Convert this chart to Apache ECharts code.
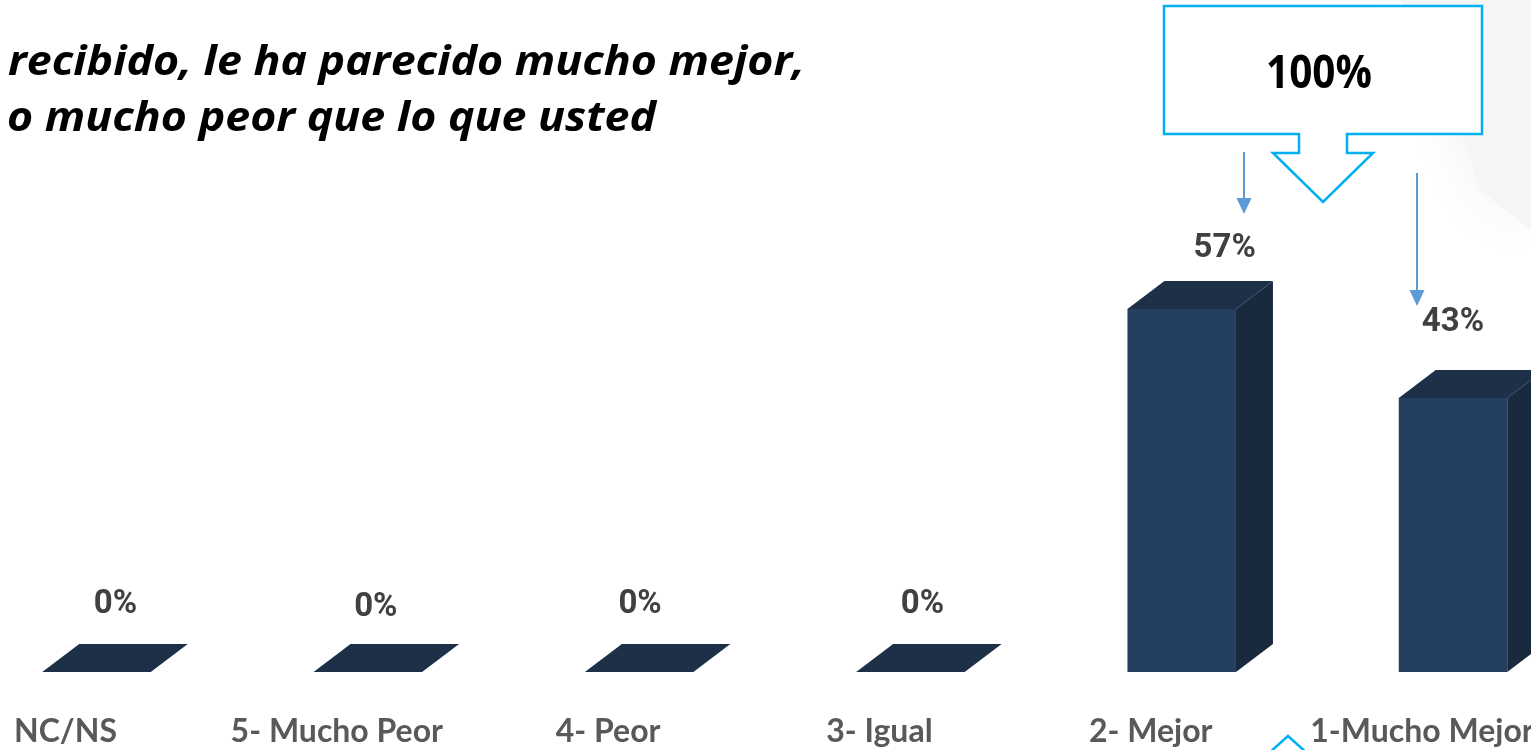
<!DOCTYPE html>
<html>
<head>
<meta charset="utf-8">
<script src="https://cdn.jsdelivr.net/npm/echarts@6/dist/echarts.min.js"></script>
<style>
  html, body { margin: 0; padding: 0; background: #fff; }
  #chart { width: 1531px; height: 750px; }
</style>
</head>
<body>
<div id="chart"></div>
<script>
  // datos
  const categories = ['NC/NS', '5- Mucho Peor', '4- Peor', '3- Igual', '2- Mejor', '1-Mucho Mejor'];
  const values = [0, 0, 0, 0, 57, 43];
  const totalLabel = '100%';
  const titleLines = ['recibido, le ha parecido mucho mejor,', 'o mucho peor que lo que usted'];

  // ajustes manuales de las etiquetas (como en la diapositiva original)
  const labelNudge = [[19, -39], [8, -36], [1, -39], [12, -39], [43, -32], [0, -47]];

  const DX = 37, DY = 28; // profundidad 3D
  const colFront = '#253f60', colSide = '#19293e', colTop = '#1e3048';
  const STEP = 271.3;      // px por categoria
  const FIRST = 96.5;      // centro de la primera barra
  const LABEL_SHIFT = -31; // las etiquetas del eje van algo a la izquierda

  function textWidth(font, s) {
    const ctx = document.createElement('canvas').getContext('2d');
    ctx.font = font;
    return ctx.measureText(s).width;
  }

  const titleFont = "italic bold 41px 'Open Sans'";
  const titleScale = 797 / textWidth(titleFont, titleLines[0]);
  const totalFont = "bold 47px 'Open Sans'";
  const totalScale = 106 / textWidth(totalFont, totalLabel);

  let myChart = echarts.init(document.getElementById('chart'));

  function renderBar(params, api) {
    const i = api.value(0);
    const v = api.value(1);
    const p = api.coord([i, v]);
    const b = api.coord([i, 0]);
    const w = api.size([1, 0])[0] * 0.4;
    const l = p[0] - w / 2, r = p[0] + w / 2, top = p[1], base = b[1];
    const children = [];
    if (base - top > 0.5) {
      children.push({
        type: 'rect',
        shape: { x: l, y: top, width: w, height: base - top },
        style: { fill: colFront }
      });
      children.push({
        type: 'polygon',
        shape: { points: [[r, top], [r + DX, top - DY], [r + DX, base - DY], [r, base]] },
        style: { fill: colSide }
      });
    }
    children.push({
      type: 'polygon',
      shape: { points: [[l, top], [l + DX, top - DY], [r + DX, top - DY], [r, top]] },
      style: { fill: colTop }
    });
    const n = labelNudge[i] || [0, -40];
    children.push({
      type: 'text',
      x: p[0] + n[0],
      y: top - DY + n[1],
      style: {
        text: v + '%',
        font: 'bold 33px Roboto',
        fill: '#404040',
        textAlign: 'center',
        textVerticalAlign: 'middle'
      }
    });
    return { type: 'group', children: children };
  }

  const xMin = -FIRST / STEP;
  const xMax = xMin + 1531 / STEP;

  let option = {
    backgroundColor: '#fff',
    animation: false,
    grid: { left: 0, right: 0, top: 35, bottom: 78, containLabel: false, outerBoundsMode: 'none' },
    xAxis: {
      type: 'value',
      min: xMin,
      max: xMax,
      splitLine: { show: false },
      axisLine: { show: false },
      axisTick: { show: false },
      axisLabel: {
        customValues: categories.map((c, i) => i + LABEL_SHIFT / STEP),
        formatter: v => categories[Math.round(v)],
        margin: 60,
        verticalAlign: 'middle',
        color: '#595959',
        fontFamily: 'Lato',
        fontWeight: 'bold',
        fontSize: 32
      }
    },
    yAxis: { type: 'value', min: 0, max: 100, show: false, splitLine: { show: false } },
    graphic: [
      {
        type: 'polygon', z: -10, silent: true,
        shape: { points: [[1110, 0], [1531, 0], [1531, 230], [1480, 190], [1440, 60], [1400, 0]] },
        style: { fill: '#f5f5f5', shadowBlur: 60, shadowColor: 'rgba(0,0,0,0.06)' }
      },
      {
        type: 'text', x: 8, y: 63, scaleX: titleScale,
        style: { text: titleLines[0], font: titleFont, fill: '#000', textAlign: 'left', textVerticalAlign: 'middle' }
      },
      {
        type: 'text', x: 7, y: 119, scaleX: titleScale,
        style: { text: titleLines[1], font: titleFont, fill: '#000', textAlign: 'left', textVerticalAlign: 'middle' }
      },
      {
        type: 'polygon',
        shape: { points: [[1164, 6], [1482, 6], [1482, 134], [1347, 134], [1347, 153], [1373, 153], [1323, 202], [1273, 153], [1299, 153], [1299, 134], [1164, 134]] },
        style: { fill: '#fff', stroke: '#00b0f0', lineWidth: 2.5, lineJoin: 'miter' }
      },
      {
        type: 'text', x: 1319, y: 75, scaleX: totalScale,
        style: { text: totalLabel, font: totalFont, fill: '#000', textAlign: 'center', textVerticalAlign: 'middle' }
      },
      // flechas
      { type: 'line', shape: { x1: 1244, y1: 152, x2: 1244, y2: 200 }, style: { stroke: '#5b9bd5', lineWidth: 2 } },
      { type: 'polygon', shape: { points: [[1236.5, 198], [1251.5, 198], [1244, 214]] }, style: { fill: '#5b9bd5' } },
      { type: 'line', shape: { x1: 1417, y1: 173, x2: 1417, y2: 292 }, style: { stroke: '#5b9bd5', lineWidth: 2 } },
      { type: 'polygon', shape: { points: [[1409.5, 290], [1424.5, 290], [1417, 306]] }, style: { fill: '#5b9bd5' } },
      // otro recuadro cortado abajo
      { type: 'polyline', shape: { points: [[1268, 754], [1288, 736], [1308, 754]] }, style: { stroke: '#00b0f0', lineWidth: 2.5, fill: null } }
    ],
    series: [
      {
        type: 'custom',
        renderItem: renderBar,
        data: values.map((v, i) => [i, v]),
        encode: { x: 0, y: 1 },
        clip: false
      }
    ]
  };
  myChart.setOption(option);
</script>
</body>
</html>
